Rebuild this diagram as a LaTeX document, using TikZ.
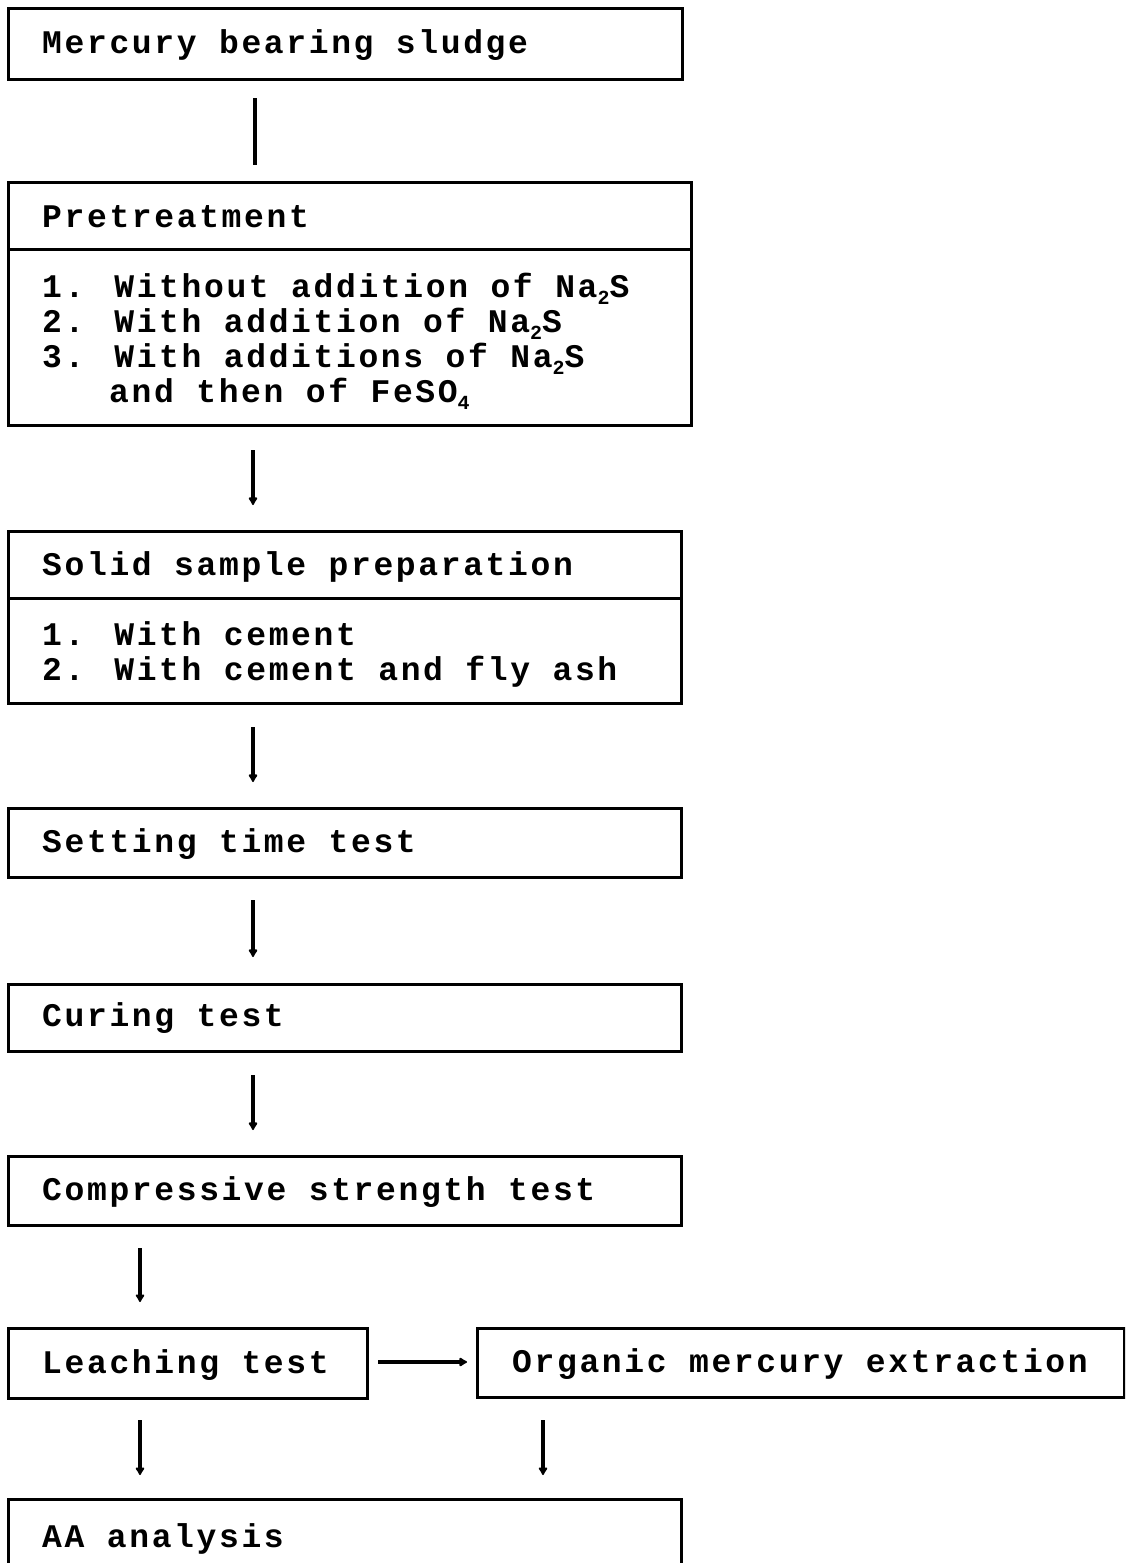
\documentclass[tikz,border=0pt]{standalone}
\usepackage{fontspec}
\usetikzlibrary{arrows.meta,calc}
\newfontfamily\tw{Liberation Mono}[LetterSpace=8, UprightFont=* Bold]
\newcommand\subsc[1]{\raisebox{-0.22em}{\fontsize{20}{20}\selectfont#1}}
\begin{document}
\begin{tikzpicture}[x=1pt,y=-1pt,
  box/.style={draw, line width=3pt, rectangle, inner sep=0pt, anchor=north west},
  lbl/.style={anchor=base west, inner sep=0pt, font=\tw\fontsize{33}{35}\selectfont},
  divider/.style={line width=3pt},
  conn/.style={line width=3.5pt},
  arr/.style={line width=3.5pt, -{Latex[length=9pt,width=11pt,round]}}]
\useasboundingbox (0,0) rectangle (1125,1563);
\clip (0,0) rectangle (1125,1563);
\fill[white] (0,0) rectangle (1125,1563);

% boxes
\node[box, minimum width=674pt, minimum height=71pt] (b1) at (7,7) {};
\node[box, minimum width=683pt, minimum height=243pt] (b2) at (7,181) {};
\node[box, minimum width=673pt, minimum height=172pt] (b3) at (7,530) {};
\node[box, minimum width=673pt, minimum height=69pt] (b4) at (7,807) {};
\node[box, minimum width=673pt, minimum height=67pt] (b5) at (7,983) {};
\node[box, minimum width=673pt, minimum height=69pt] (b6) at (7,1155) {};
\node[box, minimum width=359pt, minimum height=70pt] (b7) at (7,1327) {};
\node[box, minimum width=647pt, minimum height=69pt] (b8) at (476,1327) {};
\node[box, minimum width=673pt, minimum height=120pt] (b9) at (7,1498) {};

% dividers
\draw[divider] ($(b2.north west)+(0,68)$) -- ($(b2.north east)+(0,68)$);
\draw[divider] ($(b3.north west)+(0,68)$) -- ($(b3.north east)+(0,68)$);

% texts
\node[lbl] (t1) at (42,53) {Mercury bearing sludge};
\node[lbl] (t2) at (42,227) {Pretreatment};
\node[lbl] (t2a) at (42,297) {1. Without addition of Na\subsc{2}S};
\node[lbl] (t2b) at (42,332) {2. With addition of Na\subsc{2}S};
\node[lbl] (t2c) at (42,367) {3. With additions of Na\subsc{2}S};
\node[lbl] (t2d) at (109,402) {and then of FeSO\subsc{4}};
\node[lbl] (t3) at (42,575) {Solid sample preparation};
\node[lbl] (t3a) at (42,645) {1. With cement};
\node[lbl] (t3b) at (42,680) {2. With cement and fly ash};
\node[lbl] (t4) at (42,852) {Setting time test};
\node[lbl] (t5) at (42,1026) {Curing test};
\node[lbl] (t6) at (42,1200) {Compressive strength test};
\node[lbl] (t7) at (42,1373) {Leaching test};
\node[lbl] (t8) at (512,1372) {Organic mercury extraction};
\node[lbl] (t9) at (42,1547) {AA analysis};

% connectors
\draw[conn] ($(b1.south west)+(248,17)$) -- ($(b2.north west)+(248,-16)$);
\draw[arr] ($(b2.south west)+(246,23)$) -- ($(b3.north west)+(246,-25)$);
\draw[arr] ($(b3.south west)+(246,22)$) -- ($(b4.north west)+(246,-25)$);
\draw[arr] ($(b4.south west)+(246,21)$) -- ($(b5.north west)+(246,-26)$);
\draw[arr] ($(b5.south west)+(246,22)$) -- ($(b6.north west)+(246,-25)$);
\draw[arr] ($(b6.south west)+(133,21)$) -- ($(b7.north west)+(133,-25)$);
\draw[arr] ($(b7.south west)+(133,20)$) -- ($(b9.north west)+(133,-23)$);
\draw[arr] ($(b8.south west)+(67,21)$) -- ($(b9.north west)+(536,-23)$);
\draw[arr] ($(b7.north east)+(9,35)$) -- ($(b8.north west)+(-9,35)$);
\end{tikzpicture}
\end{document}
